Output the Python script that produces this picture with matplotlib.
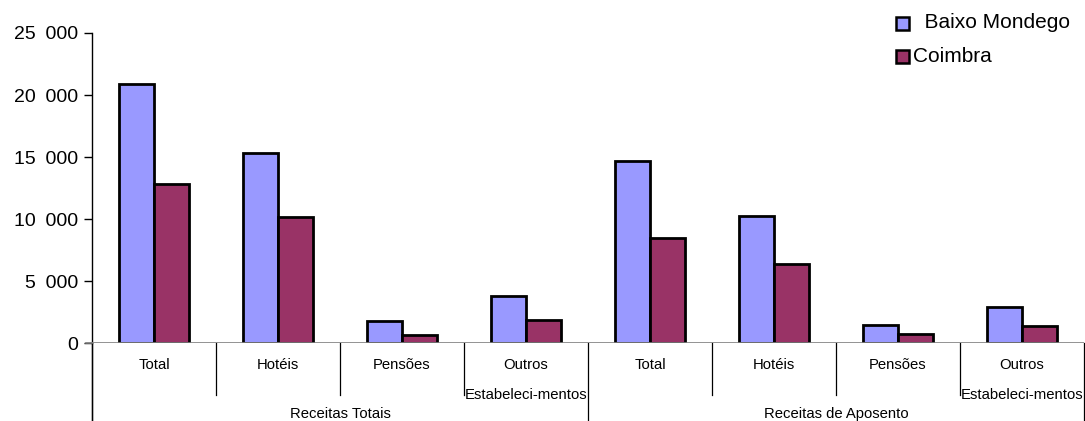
import matplotlib
matplotlib.use("Agg")
import matplotlib.pyplot as plt
from matplotlib.patches import Rectangle
from matplotlib.lines import Line2D
import numpy as np

plt.rcParams['font.family'] = ['Liberation Sans', 'DejaVu Sans']

categories = ["Total", "Hotéis", "Pensões", "Outros\nEstabeleci-mentos",
              "Total", "Hotéis", "Pensões", "Outros\nEstabeleci-mentos"]
groups = ["Receitas Totais", "Receitas de Aposento"]
series_names = ["Baixo Mondego", "Coimbra"]
baixo_mondego = [20900, 15300, 1770, 3800, 14700, 10250, 1480, 2920]
coimbra = [12800, 10200, 680, 1850, 8500, 6400, 700, 1400]
yticks = [0, 5000, 10000, 15000, 20000, 25000]
ytick_labels = ["0", "5\u2002000", "10\u2002000", "15\u2002000", "20\u2002000", "25\u2002000"]
colors = ["#9999FF", "#993366"]

W, H = 1085, 421
fig = plt.figure(figsize=(W / 100, H / 100), dpi=100)
ax_left, ax_right, y0, ytop = 92, 1084, 343, 33
ax = fig.add_axes([ax_left / W, (H - y0) / H, (ax_right - ax_left) / W, (y0 - ytop) / H])

x = np.arange(len(categories))
bw = 0.286
ax.bar(x - bw / 2, baixo_mondego, bw, color=colors[0], edgecolor="black", linewidth=2, zorder=3)
ax.bar(x + bw / 2, coimbra, bw, color=colors[1], edgecolor="black", linewidth=2, zorder=3)

ax.set_xlim(-0.5, len(categories) - 0.5)
ax.set_ylim(0, 25000)
ax.set_yticks(yticks)
ax.set_yticklabels(ytick_labels, fontsize=14)
ax.tick_params(axis='y', direction='out', length=6, width=1, color='black', pad=4)
ax.set_xticks([])
for s in ['top', 'right', 'bottom']:
    ax.spines[s].set_visible(False)
ax.spines['left'].set_color('black')
ax.spines['left'].set_linewidth(1)

# baseline
ax.axhline(0, color='#808080', lw=1.2, zorder=4)
ax.plot([-0.5 - 6 / 124, -0.5], [0, 0], color='#808080', lw=1.2, clip_on=False, zorder=4)

ppx = (y0 - ytop)
def yfrac(py):
    return -(py - y0) / ppx

trans = ax.get_xaxis_transform()
fs = 10.7
for xi, lab in zip(x, categories):
    for li, line in enumerate(lab.split("\n")):
        ax.text(xi, yfrac(365 + 30 * li), line, transform=trans, ha='center', va='center',
                fontsize=fs)
n = len(categories)
per_group = n // len(groups)
for b in np.arange(-0.5, n, 1.0):
    outer = (b + 0.5) % per_group == 0
    ybot = yfrac(H + 5) if outer else yfrac(395)
    ax.add_line(Line2D([b, b], [0, ybot], transform=trans, color='black', lw=0.9, clip_on=False))
ax.add_line(Line2D([-0.5, -0.5], [0, yfrac(H + 5)], transform=trans, color='black', lw=1, clip_on=False))
for gi, g in enumerate(groups):
    cx = gi * per_group + (per_group - 1) / 2
    ax.text(cx, yfrac(414), g, transform=trans, ha='center', va='center', fontsize=fs)

# legend (manual)
leg_items = [("  " + series_names[0], colors[0], 896, 23), (series_names[1], colors[1], 896, 56)]
for lab, col, px, py in leg_items:
    r = Rectangle((px / W, 1 - (py + 6.5) / H), 13 / W, 13 / H, transform=fig.transFigure,
                  facecolor=col, edgecolor='black', linewidth=1.8)
    fig.add_artist(r)
    fig.text((px + 17) / W, 1 - py / H, lab, fontsize=15, va='center', ha='left')

fig.savefig("out.png", dpi=100)
